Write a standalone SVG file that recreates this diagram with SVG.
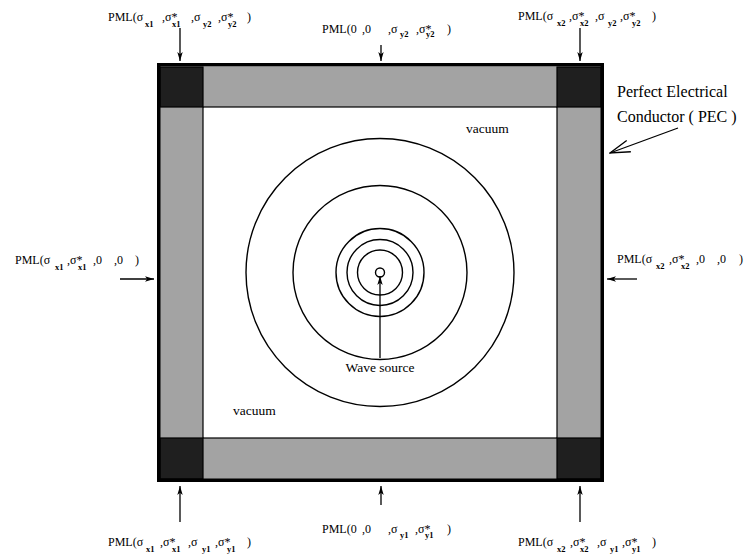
<svg xmlns="http://www.w3.org/2000/svg" width="745" height="555" viewBox="0 0 745 555">
<style>
.lbl{font-family:"Liberation Serif","Times New Roman",serif;font-size:12px;fill:#000}
.sub{font-size:8.5px;font-weight:bold}
.big{font-family:"Liberation Serif","Times New Roman",serif;font-size:16px;fill:#000}
.mid{font-family:"Liberation Serif","Times New Roman",serif;font-size:13.5px;fill:#000}
.ar{stroke:#000;stroke-width:1.3;fill:none;marker-end:url(#ah)}
.wave{fill:none;stroke:#000;stroke-width:1.4}
.gray{fill:#a3a3a3}
.dark{fill:#1f1f1f;stroke:#000;stroke-width:1.2}
</style>
<defs>
<marker id="ah" viewBox="0 0 10 6" refX="10" refY="3" markerWidth="9" markerHeight="5.5" markerUnits="userSpaceOnUse" orient="auto">
<path d="M0,0 L10,3 L0,6 L2.5,3 z" fill="#000"/>
</marker>
<marker id="vh" viewBox="0 0 22 14" refX="21" refY="7" markerWidth="22" markerHeight="14" markerUnits="userSpaceOnUse" orient="auto">
<path d="M1,1 L21,7 L1,13" fill="none" stroke="#000" stroke-width="1.3"/>
</marker>
</defs>
<rect width="745" height="555" fill="#fff"/>
<g id="pml-frame">
<rect class="gray" x="160" y="67" width="441" height="412"/>
<rect x="203" y="107" width="354" height="331" fill="#fff" stroke="#000" stroke-width="1.2"/>
<rect class="dark" x="160" y="67" width="43" height="40"/>
<rect class="dark" x="557" y="67" width="44" height="40"/>
<rect class="dark" x="160" y="438" width="43" height="41"/>
<rect class="dark" x="557" y="438" width="44" height="41"/>
<rect x="158.75" y="64.75" width="443.5" height="415.5" fill="none" stroke="#000" stroke-width="3.5"/>
</g>
<g id="waves">
<circle class="wave" cx="380" cy="272.5" r="4.5"/>
<circle class="wave" cx="380" cy="272.5" r="22.5"/>
<circle class="wave" cx="380" cy="272.5" r="33"/>
<circle class="wave" cx="380" cy="272.5" r="44"/>
<circle class="wave" cx="380" cy="272.5" r="87"/>
<circle class="wave" cx="380" cy="272.5" r="134"/>
</g>
<g id="vacuum-top"><text class="mid" x="466" y="133">vacuum</text></g>
<g id="vacuum-bottom"><text class="mid" x="233" y="415">vacuum</text></g>
<g id="wave-source"><text class="mid" x="380" y="372" text-anchor="middle">Wave source</text></g>
<g id="pec-label">
<text class="big" x="617" y="97">Perfect Electrical</text>
<text class="big" x="617" y="122">Conductor ( PEC )</text>
</g>
<g id="label-top-left"><text class="lbl" y="21"><tspan x="108">PML(σ</tspan><tspan class="sub" x="145" y="27">x1</tspan><tspan x="162" y="21">,σ*</tspan><tspan class="sub" x="172" y="27">x1</tspan><tspan x="191" y="21">,σ</tspan><tspan class="sub" x="203" y="27">y2</tspan><tspan x="218" y="21">,σ*</tspan><tspan class="sub" x="228" y="27">y2</tspan><tspan x="247" y="21">)</tspan></text></g>
<g id="label-top-mid"><text class="lbl" y="33"><tspan x="322">PML(0</tspan><tspan x="362">,0</tspan><tspan x="388">,σ</tspan><tspan class="sub" x="400" y="37">y2</tspan><tspan x="416" y="33">,σ*</tspan><tspan class="sub" x="426" y="37">y2</tspan><tspan x="447" y="33">)</tspan></text></g>
<g id="label-top-right"><text class="lbl" y="20"><tspan x="518">PML(σ</tspan><tspan class="sub" x="557" y="26">x2</tspan><tspan x="569" y="20">,σ*</tspan><tspan class="sub" x="580" y="26">x2</tspan><tspan x="595" y="20">,σ</tspan><tspan class="sub" x="608" y="26">y2</tspan><tspan x="620" y="20">,σ*</tspan><tspan class="sub" x="632" y="26">y2</tspan><tspan x="652" y="20">)</tspan></text></g>
<g id="label-left"><text class="lbl" y="264"><tspan x="15">PML(σ</tspan><tspan class="sub" x="55" y="270">x1</tspan><tspan x="67" y="264">,σ*</tspan><tspan class="sub" x="78" y="270">x1</tspan><tspan x="93" y="264">,0</tspan><tspan x="114" y="264">,0</tspan><tspan x="135" y="264">)</tspan></text></g>
<g id="label-right"><text class="lbl" y="263"><tspan x="617">PML(σ</tspan><tspan class="sub" x="656" y="269">x2</tspan><tspan x="669" y="263">,σ*</tspan><tspan class="sub" x="681" y="269">x2</tspan><tspan x="696" y="263">,0</tspan><tspan x="717" y="263">,0</tspan><tspan x="739" y="263">)</tspan></text></g>
<g id="label-bottom-left"><text class="lbl" y="546"><tspan x="108">PML(σ</tspan><tspan class="sub" x="146" y="552">x1</tspan><tspan x="160" y="546">,σ*</tspan><tspan class="sub" x="172" y="552">x1</tspan><tspan x="188" y="546">,σ</tspan><tspan class="sub" x="202" y="552">y1</tspan><tspan x="215" y="546">,σ*</tspan><tspan class="sub" x="227" y="552">y1</tspan><tspan x="247" y="546">)</tspan></text></g>
<g id="label-bottom-mid"><text class="lbl" y="533"><tspan x="322">PML(0</tspan><tspan x="362">,0</tspan><tspan x="388">,σ</tspan><tspan class="sub" x="400" y="538">y1</tspan><tspan x="415" y="533">,σ*</tspan><tspan class="sub" x="425" y="538">y1</tspan><tspan x="447" y="533">)</tspan></text></g>
<g id="label-bottom-right"><text class="lbl" y="546"><tspan x="518">PML(σ</tspan><tspan class="sub" x="557" y="552">x2</tspan><tspan x="570" y="546">,σ*</tspan><tspan class="sub" x="580" y="552">x2</tspan><tspan x="597" y="546">,σ</tspan><tspan class="sub" x="610" y="552">y1</tspan><tspan x="622" y="546">,σ*</tspan><tspan class="sub" x="632" y="552">y1</tspan><tspan x="652" y="546">)</tspan></text></g>
<g id="connectors">
<line class="ar" x1="180" y1="28" x2="180" y2="61"/>
<line class="ar" x1="381" y1="45" x2="381" y2="61"/>
<line class="ar" x1="580" y1="28" x2="580" y2="61"/>
<line class="ar" x1="120" y1="279" x2="154" y2="279"/>
<line class="ar" x1="637" y1="279" x2="607" y2="279"/>
<line class="ar" x1="180" y1="522" x2="180" y2="486"/>
<line class="ar" x1="381" y1="505" x2="381" y2="486"/>
<line class="ar" x1="580" y1="522" x2="580" y2="486"/>
<line class="ar" x1="380" y1="358" x2="380" y2="276"/>
<line x1="678" y1="128" x2="610" y2="153" stroke="#000" stroke-width="1.3" marker-end="url(#vh)"/>
</g>
</svg>
